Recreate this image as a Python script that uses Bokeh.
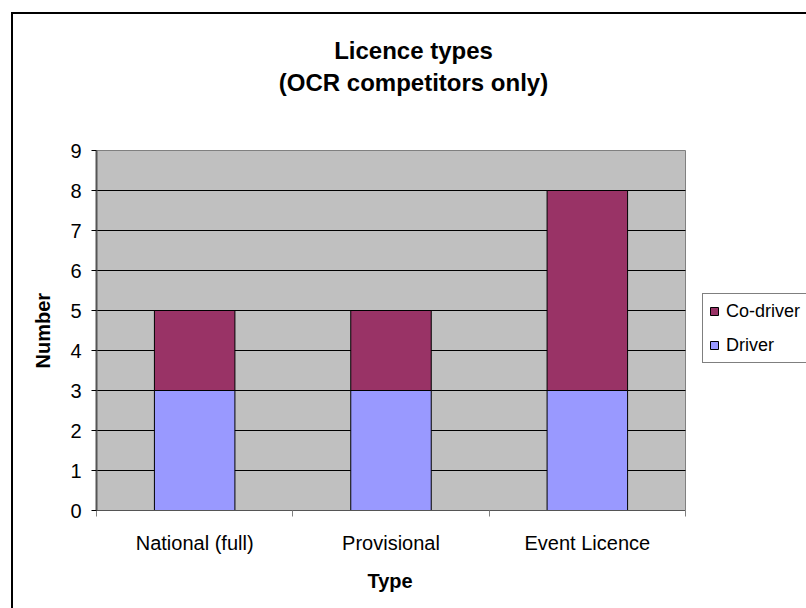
from bokeh.plotting import figure
from bokeh.models import (Range1d, FixedTicker, Legend, LegendItem, Label, Title, ColumnDataSource)
from bokeh.embed import file_html
from bokeh.resources import INLINE

categories = ["National (full)", "Provisional", "Event Licence"]
driver = [3, 3, 3]
co_driver = [2, 2, 5]
y_ticks = [0, 1, 2, 3, 4, 5, 6, 7, 8, 9]
series_names = ["Driver", "Co-driver"]
title_lines = ["Licence types", "(OCR competitors only)"]
x_title = "Type"
y_title = "Number"

FONT = "Liberation Sans"

n = len(categories)
ymax = max(y_ticks)
centers = [i + 0.5 for i in range(n)]
bounds = [i for i in range(n + 1)]
source = ColumnDataSource(dict(x=centers, Driver=driver, **{"Co-driver": co_driver}))

# layout geometry (pixels): plot area 96..685 x 150..510, frame extended to the right/top edge
W, H = 806, 608
PA_L, PA_R, PA_T, PA_B = 96, 685, 150, 510
x_end = n * (W - PA_L) / (PA_R - PA_L)
y_end = ymax * PA_B / (PA_B - PA_T)

border_css = ("linear-gradient(#000,#000) 11px 12px / 2px 100% no-repeat, "
              "linear-gradient(#000,#000) 11px 12px / 100% 2px no-repeat, white")

p = figure(width=W, height=H, output_backend="svg", toolbar_location=None,
           x_range=Range1d(0, x_end), y_range=Range1d(0, y_end),
           min_border_left=PA_L, min_border_right=0, min_border_top=0, min_border_bottom=H - PA_B,
           styles={"background": border_css})

p.background_fill_color = None
p.border_fill_color = None
p.outline_line_color = None
p.xgrid.visible = False
p.ygrid.visible = False

# plot area (gray) with grey border
p.quad(left=[0], right=[n], bottom=[0], top=[ymax], fill_color="#C0C0C0",
       line_color="#808080", line_width=1)
# horizontal gridlines
grid_vals = y_ticks[1:-1]
p.segment(x0=[0] * len(grid_vals), x1=[n] * len(grid_vals), y0=grid_vals, y1=grid_vals,
          line_color="black", line_width=1)

renderers = p.vbar_stack(series_names, x="x", width=0.41, source=source,
                         color=["#9999FF", "#993366"], line_color="black", line_width=1)

# chart title
tx = (413 - PA_L) / (PA_R - PA_L) * n
for line, ypx in zip(title_lines, [50, 82]):
    p.add_layout(Label(x=tx, y=(PA_B - ypx) / (PA_B - PA_T) * ymax, text=line,
                       text_align="center", text_baseline="middle", text_font=FONT,
                       text_font_style="bold", text_font_size="24px", text_color="black"))

# y axis
p.yaxis.bounds = (0, ymax)
p.yaxis.ticker = FixedTicker(ticks=y_ticks)
p.yaxis.axis_label = None
p.yaxis.major_label_text_font = FONT
p.yaxis.major_label_text_font_size = "20px"
p.yaxis.major_label_text_color = "black"
p.yaxis.major_label_standoff = 10
p.yaxis.major_tick_out = 5
p.yaxis.major_tick_in = 0
p.yaxis.minor_tick_out = 0
p.yaxis.minor_tick_in = 0
p.yaxis.major_tick_line_color = "black"
p.yaxis.axis_line_color = "#555555"
p.yaxis.axis_line_width = 2

# x axis
p.xaxis.bounds = (0, n)
p.xaxis.ticker = FixedTicker(ticks=centers, minor_ticks=bounds)
p.xaxis.major_label_overrides = {c: name for c, name in zip(centers, categories)}
p.xaxis.axis_label = None
p.xaxis.major_label_text_font = FONT
p.xaxis.major_label_text_font_size = "20px"
p.xaxis.major_label_text_color = "black"
p.xaxis.major_label_standoff = 15
p.xaxis.major_tick_out = 0
p.xaxis.major_tick_in = 0
p.xaxis.minor_tick_out = 6
p.xaxis.minor_tick_in = 0
p.xaxis.minor_tick_line_color = "#808080"
p.xaxis.axis_line_color = "#555555"
p.xaxis.axis_line_width = 1

# axis titles, centred on the plot area (not on the extended frame)
p.add_layout(Title(text=y_title, align="left", offset=142, vertical_align="middle",
                   text_font=FONT, text_font_style="bold", text_font_size="20px",
                   text_color="black", standoff=26), "left")
p.add_layout(Title(text=x_title, align="left", offset=271, vertical_align="middle",
                   text_font=FONT, text_font_style="bold", text_font_size="20px",
                   text_color="black", standoff=24), "below")

legend = Legend(items=[LegendItem(label=series_names[1], renderers=[renderers[1]]),
                       LegendItem(label=series_names[0], renderers=[renderers[0]])],
                location=(702 - PA_L, PA_B - 363))
legend.glyph_width = 10
legend.glyph_height = 10
legend.label_height = 22
legend.label_standoff = 7
legend.spacing = 12
legend.padding = 6
legend.margin = 0
legend.label_text_font = FONT
legend.label_text_font_size = "18px"
legend.label_text_color = "black"
legend.border_line_color = "black"
legend.border_line_width = 1
legend.background_fill_color = "white"
legend.background_fill_alpha = 1
p.add_layout(legend, "center")

open("out.html", "w").write(file_html(p, INLINE))
